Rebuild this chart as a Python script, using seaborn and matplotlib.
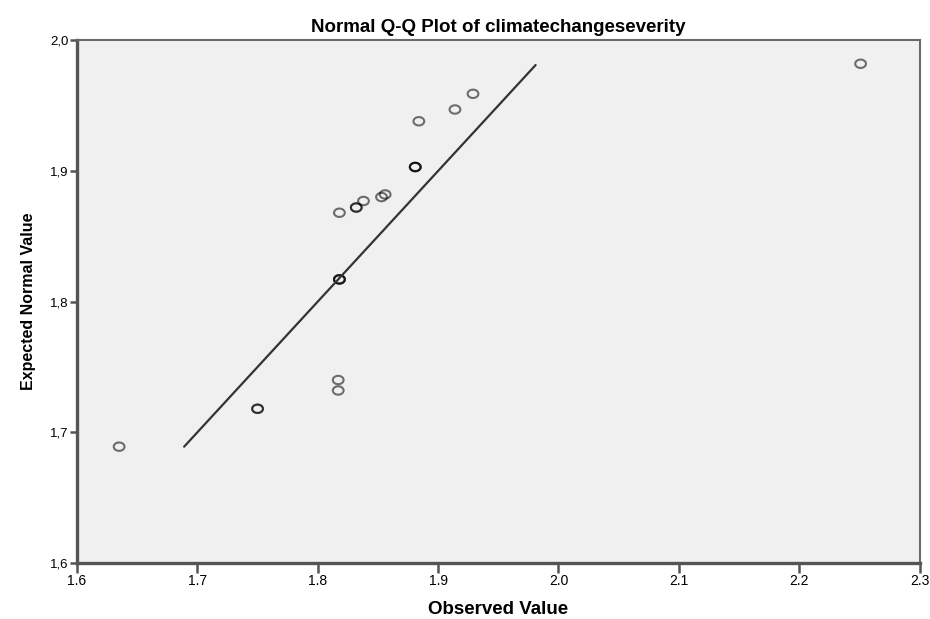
import numpy as np
import pandas as pd
import matplotlib
matplotlib.use("Agg")
import matplotlib.pyplot as plt
import seaborn as sns
from matplotlib.path import Path
from matplotlib.ticker import FuncFormatter

# observed values and expected normal values (duplicates repeated)
observed = [1.635, 1.750, 1.750, 1.817, 1.817, 1.818, 1.818, 1.818, 1.818,
            1.832, 1.832, 1.838, 1.853, 1.856, 1.881, 1.881, 1.881,
            1.884, 1.914, 1.929, 2.251]
expected = [1.689, 1.718, 1.718, 1.732, 1.740, 1.817, 1.817, 1.817, 1.868,
            1.872, 1.872, 1.877, 1.880, 1.882, 1.903, 1.903, 1.903,
            1.938, 1.947, 1.959, 1.982]
line_x = [1.689, 1.981]
line_y = [1.689, 1.981]

x_ticks = [1.6, 1.7, 1.8, 1.9, 2.0, 2.1, 2.2, 2.3]
y_ticks = [1.6, 1.7, 1.8, 1.9, 2.0]

df = pd.DataFrame({"Observed Value": observed, "Expected Normal Value": expected})
df_line = pd.DataFrame({"x": line_x, "y": line_y})

# slightly wide ellipse marker, like the SPSS one
t = np.linspace(0, 2 * np.pi, 41)
ellipse = Path(np.column_stack([np.cos(t), 0.78 * np.sin(t)]), closed=True)

sns.set_style("white")
plt.rcParams['font.family'] = ['Liberation Sans', 'DejaVu Sans']
plt.rcParams['text.color'] = 'black'
plt.rcParams['axes.labelcolor'] = 'black'
plt.rcParams['xtick.color'] = 'black'
plt.rcParams['ytick.color'] = 'black'

fig = plt.figure(figsize=(9.3, 6.19), dpi=100)
ax = fig.add_axes([0.0828, 0.0905, 0.906, 0.8445])
ax.set_facecolor('#f0f0f0')

sns.lineplot(data=df_line, x="x", y="y", color='#333333', linewidth=1.6, ax=ax)
sns.scatterplot(data=df, x="Observed Value", y="Expected Normal Value", marker=ellipse,
                s=60, facecolors='none', edgecolor=(0, 0, 0, 0.55), linewidth=1.5, ax=ax)

ax.set_xlim(1.6, 2.3)
ax.set_ylim(1.6, 2.0)
ax.set_xticks(x_ticks)
ax.set_yticks(y_ticks)
ax.yaxis.set_major_formatter(FuncFormatter(lambda v, p: f"{v:.1f}".replace('.', ',')))
ax.xaxis.set_major_formatter(FuncFormatter(lambda v, p: f"{v:.1f}"))

for side in ['left', 'bottom']:
    ax.spines[side].set_linewidth(2.4)
    ax.spines[side].set_color('#555555')
for side in ['top', 'right']:
    ax.spines[side].set_linewidth(1.5)
    ax.spines[side].set_color('#6a6a6a')

ax.tick_params(axis='y', direction='out', length=5, width=1.8, color='#555555',
               labelsize=9.5, pad=1, left=True, labelcolor='black')
ax.tick_params(axis='x', direction='out', length=7, width=1.8, color='#555555',
               labelsize=10, pad=1, bottom=True, labelcolor='black')

ax.set_xlabel("Observed Value", fontsize=13.5, fontweight='bold', labelpad=9)
ax.set_ylabel("Expected Normal Value", fontsize=11.5, fontweight='bold', labelpad=10)
ax.set_title("Normal Q-Q Plot of climatechangeseverity", fontsize=13.5,
             fontweight='bold', pad=6)

fig.savefig("out.png", dpi=100)
